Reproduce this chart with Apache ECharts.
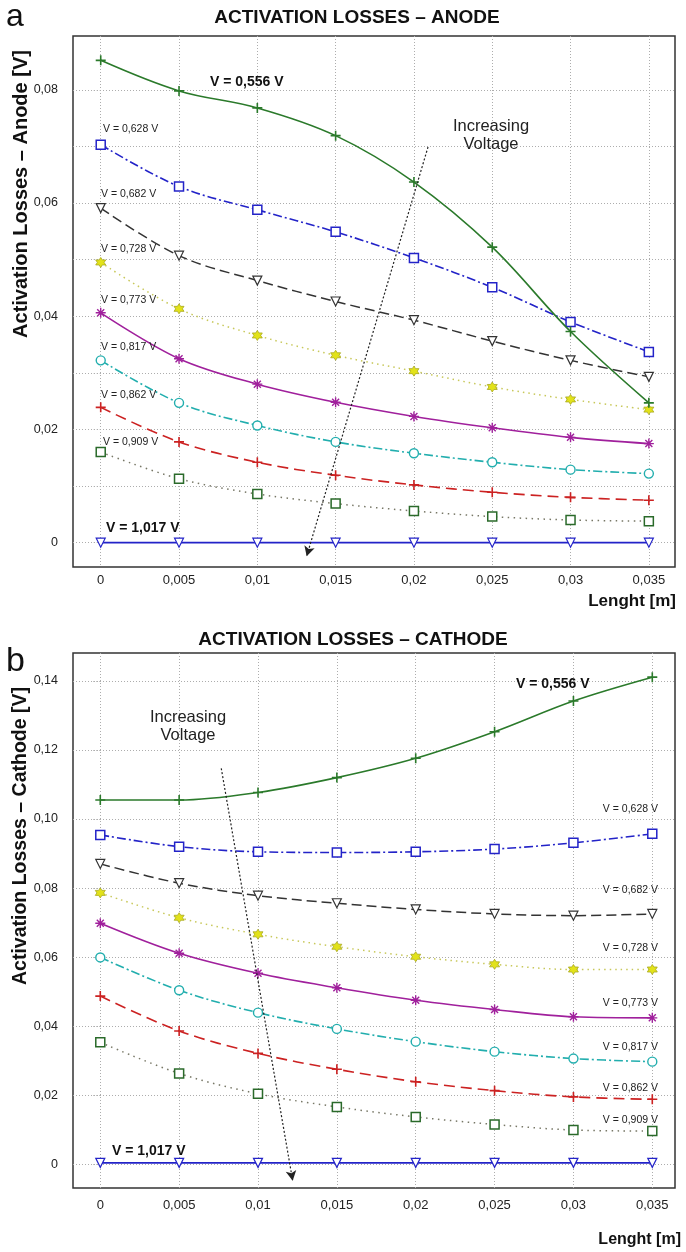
<!DOCTYPE html>
<html>
<head>
<meta charset="utf-8">
<script src="https://cdn.jsdelivr.net/npm/echarts@6/dist/echarts.min.js"></script>
<style>
  html, body { margin: 0; padding: 0; background: #fff; }
  #chart { width: 686px; height: 1252px; }
</style>
</head>
<body>
<div id="chart"></div>
<script>
// Channel length positions [m]
const lengths = [0, 0.005, 0.01, 0.015, 0.02, 0.025, 0.03, 0.035];

// Cell voltages, one curve each
const voltages = ['V = 0,556 V', 'V = 0,628 V', 'V = 0,682 V', 'V = 0,728 V', 'V = 0,773 V',
                  'V = 0,817 V', 'V = 0,862 V', 'V = 0,909 V', 'V = 1,017 V'];

// Anode activation losses [V]
const anode556  = [0.0852, 0.0798, 0.0768, 0.0719, 0.0637, 0.0522, 0.0373, 0.0247];
const anode628  = [0.0703, 0.0629, 0.0588, 0.0549, 0.0503, 0.0451, 0.0390, 0.0337];
const anode682  = [0.0591, 0.0507, 0.0463, 0.0426, 0.0393, 0.0356, 0.0322, 0.0293];
const anode728  = [0.0495, 0.0413, 0.0366, 0.0331, 0.0303, 0.0275, 0.0253, 0.0235];
const anode773  = [0.0406, 0.0325, 0.0280, 0.0248, 0.0223, 0.0203, 0.0186, 0.0175];
const anode817  = [0.0322, 0.0247, 0.0207, 0.0178, 0.0158, 0.0142, 0.0129, 0.0122];
const anode862  = [0.0239, 0.0178, 0.0142, 0.0119, 0.0102, 0.0089, 0.0080, 0.0075];
const anode909  = [0.0160, 0.0113, 0.0086, 0.0069, 0.0056, 0.0046, 0.0040, 0.0038];
const anode1017 = [0.0000, 0.0000, 0.0000, 0.0000, 0.0000, 0.0000, 0.0000, 0.0000];

// Cathode activation losses [V]
const cathode556  = [0.1055, 0.1055, 0.1077, 0.1120, 0.1176, 0.1253, 0.1342, 0.1411];
const cathode628  = [0.0954, 0.0920, 0.0905, 0.0903, 0.0905, 0.0913, 0.0931, 0.0957];
const cathode682  = [0.0870, 0.0814, 0.0778, 0.0756, 0.0738, 0.0725, 0.0720, 0.0725];
const cathode728  = [0.0786, 0.0714, 0.0666, 0.0630, 0.0601, 0.0579, 0.0564, 0.0564];
const cathode773  = [0.0698, 0.0611, 0.0553, 0.0511, 0.0475, 0.0448, 0.0427, 0.0424];
const cathode817  = [0.0599, 0.0504, 0.0439, 0.0392, 0.0355, 0.0326, 0.0306, 0.0297];
const cathode862  = [0.0487, 0.0386, 0.0321, 0.0275, 0.0239, 0.0213, 0.0195, 0.0188];
const cathode909  = [0.0353, 0.0263, 0.0204, 0.0166, 0.0137, 0.0115, 0.0099, 0.0096];
const cathode1017 = [0.0004, 0.0004, 0.0004, 0.0004, 0.0004, 0.0004, 0.0004, 0.0004];

// Axis ticks and labels
const lengthTicks = [0, 0.005, 0.01, 0.015, 0.02, 0.025, 0.03, 0.035];
const anodeGridTicks = [0, 0.01, 0.02, 0.03, 0.04, 0.05, 0.06, 0.07, 0.08];
const anodeLabelTicks = [0, 0.02, 0.04, 0.06, 0.08];
const cathodeTicks = [0, 0.02, 0.04, 0.06, 0.08, 0.10, 0.12, 0.14];

const anodeSeries = [anode556, anode628, anode682, anode728, anode773, anode817, anode862, anode909, anode1017];
const cathodeSeries = [cathode556, cathode628, cathode682, cathode728, cathode773, cathode817, cathode862, cathode909, cathode1017];

// Marker shapes
const PLUS = 'path://M4.2,0H5.8V4.2H10V5.8H5.8V10H4.2V5.8H0V4.2H4.2Z';
const TRI_DOWN = 'path://M0,0L10,0L5,9Z';
const HEXAGRAM = 'path://M5,0L6.4,2.5L9.3,2.5L7.9,5L9.3,7.5L6.4,7.5L5,10L3.6,7.5L0.7,7.5L2.1,5L0.7,2.5L3.6,2.5Z';
const ASTERISK = 'path://M5,0L5,10M0,5L10,5M1.5,1.5L8.5,8.5M8.5,1.5L1.5,8.5';

const FONT = "'Liberation Sans', Arial, sans-serif";

// One visual style per voltage
const styles = [
  { line: '#2b7a2b', type: 'solid',        width: 1.6, symbol: PLUS,     size: 10, fill: '#2b7a2b', stroke: '#2b7a2b', bw: 0 },
  { line: '#2323c8', type: [9, 3, 2, 3],   width: 1.6, symbol: 'rect',   size: 9,  fill: '#fff',    stroke: '#2323c8', bw: 1.5 },
  { line: '#333333', type: [10, 5],        width: 1.5, symbol: TRI_DOWN, size: 9,  fill: '#fff',    stroke: '#333333', bw: 1.2 },
  { line: '#c8c85a', type: [1.5, 4],       width: 1.5, symbol: HEXAGRAM, size: 10, fill: '#e2e21a', stroke: '#a8a820', bw: 0.8 },
  { line: '#a0209c', type: 'solid',        width: 1.6, symbol: ASTERISK, size: 10, fill: 'rgba(0,0,0,0)', stroke: '#a0209c', bw: 1.4 },
  { line: '#22aeae', type: [9, 3, 2, 3],   width: 1.6, symbol: 'circle', size: 9,  fill: '#fff',    stroke: '#22aeae', bw: 1.4 },
  { line: '#cc2222', type: [11, 6],        width: 1.6, symbol: PLUS,     size: 10, fill: '#cc2222', stroke: '#cc2222', bw: 0 },
  { line: '#777766', type: [1.5, 4.5],     width: 1.5, symbol: 'rect',   size: 9,  fill: '#fff',    stroke: '#2a6a2a', bw: 1.5 },
  { line: '#2323c8', type: 'solid',        width: 1.8, symbol: TRI_DOWN, size: 9,  fill: '#fff',    stroke: '#2323c8', bw: 1.2 }
];

const fmtLength = v => v === 0 ? '0' : String(parseFloat(v.toFixed(3))).replace('.', ',');
const fmtLoss = v => v === 0 ? '0' : v.toFixed(2).replace('.', ',');

function makeSeries(values, idx, gridIdx) {
  const s = styles[idx];
  return {
    type: 'line',
    name: voltages[idx],
    xAxisIndex: gridIdx,
    yAxisIndex: gridIdx,
    data: lengths.map((x, i) => [x, values[i]]),
    smooth: 0.35,
    showSymbol: true,
    showAllSymbol: true,
    symbol: s.symbol,
    symbolSize: s.size,
    lineStyle: { color: s.line, type: s.type, width: s.width },
    itemStyle: { color: s.fill, borderColor: s.stroke, borderWidth: s.bw },
    emphasis: { disabled: true },
    silent: true,
    z: 3 + (8 - idx) * 0.01
  };
}

const gridLine = { show: true, lineStyle: { color: '#adadad', type: [1, 2], width: 1 } };

function xAxisFor(gridIndex, min, max, margin) {
  return {
    type: 'value', gridIndex, min, max,
    axisLine: { show: false },
    axisTick: { show: true, customValues: lengthTicks, length: 5, inside: false, lineStyle: { color: '#adadad', type: [1, 2] } },
    axisLabel: { customValues: lengthTicks, formatter: fmtLength, margin, fontSize: 13, color: '#222', fontFamily: FONT },
    splitLine: gridLine
  };
}

function yAxisFor(gridIndex, min, max, ticks, labels) {
  return {
    type: 'value', gridIndex, min, max,
    axisLine: { show: false },
    axisTick: { show: true, customValues: ticks, length: 8, lineStyle: { color: '#adadad', type: [1, 2] } },
    axisLabel: { customValues: labels, formatter: fmtLoss, margin: 15, fontSize: 12.5, color: '#222', fontFamily: FONT },
    splitLine: gridLine
  };
}

const series = [];
anodeSeries.forEach((vals, i) => series.push(makeSeries(vals, i, 0)));
cathodeSeries.forEach((vals, i) => series.push(makeSeries(vals, i, 1)));

// "Increasing Voltage" arrows, in data coordinates of each panel
const arrowStyle = { color: '#222', type: [2, 2], width: 1.2 };
series.push({
  type: 'line', xAxisIndex: 0, yAxisIndex: 0, data: [], silent: true,
  markLine: {
    silent: true, symbol: ['none', 'arrow'], symbolSize: [8, 10], label: { show: false },
    lineStyle: arrowStyle, animation: false,
    data: [[{ coord: [0.0209, 0.0699] }, { coord: [0.01315, -0.0024] }]]
  }
});
series.push({
  type: 'line', xAxisIndex: 1, yAxisIndex: 1, data: [], silent: true,
  markLine: {
    silent: true, symbol: ['none', 'arrow'], symbolSize: [8, 10], label: { show: false },
    lineStyle: arrowStyle, animation: false,
    data: [[{ coord: [0.00767, 0.1147] }, { coord: [0.0122, -0.0048] }]]
  }
});

function txt(x, y, text, opts) {
  return {
    type: 'text', x, y, silent: true, z: 10,
    style: Object.assign({ text, fill: '#222', font: '11px ' + FONT, align: 'left', verticalAlign: 'middle' }, opts || {})
  };
}

const smallFont = '10.5px ' + FONT;
const boldLabel = 'bold 14px ' + FONT;

const graphics = [
  // panel letters
  txt(6, 17, 'a', { font: '32px ' + FONT, fill: '#111' }),
  txt(6, 662, 'b', { font: '34px ' + FONT, fill: '#111' }),
  // titles
  txt(357, 18, 'ACTIVATION LOSSES – ANODE', { font: 'bold 19px ' + FONT, align: 'center', fill: '#111' }),
  txt(353, 640, 'ACTIVATION LOSSES – CATHODE', { font: 'bold 19px ' + FONT, align: 'center', fill: '#111' }),
  // axis names
  Object.assign(txt(21, 194, 'Activation Losses – Anode [V]', { font: 'bold 20px ' + FONT, align: 'center', fill: '#111' }), { rotation: Math.PI / 2 }),
  Object.assign(txt(21, 836, 'Activation Losses – Cathode [V]', { font: 'bold 19.5px ' + FONT, align: 'center', fill: '#111' }), { rotation: Math.PI / 2 }),
  txt(676, 601, 'Lenght [m]', { font: 'bold 17px ' + FONT, align: 'right', fill: '#111' }),
  txt(681, 1240, 'Lenght [m]', { font: 'bold 16px ' + FONT, align: 'right', fill: '#111' }),
  // anode curve labels
  txt(210, 82, voltages[0], { font: boldLabel, fill: '#111' }),
  txt(103, 129, voltages[1], { font: smallFont }),
  txt(101, 194, voltages[2], { font: smallFont }),
  txt(101, 249, voltages[3], { font: smallFont }),
  txt(101, 300, voltages[4], { font: smallFont }),
  txt(101, 347, voltages[5], { font: smallFont }),
  txt(101, 395, voltages[6], { font: smallFont }),
  txt(103, 442, voltages[7], { font: smallFont }),
  txt(106, 528, voltages[8], { font: boldLabel, fill: '#111' }),
  txt(491, 126, 'Increasing', { font: '16.5px ' + FONT, align: 'center' }),
  txt(491, 144, 'Voltage', { font: '16.5px ' + FONT, align: 'center' }),
  // cathode curve labels
  txt(516, 684, voltages[0], { font: boldLabel, fill: '#111' }),
  txt(658, 809, voltages[1], { font: smallFont, align: 'right' }),
  txt(658, 890, voltages[2], { font: smallFont, align: 'right' }),
  txt(658, 948, voltages[3], { font: smallFont, align: 'right' }),
  txt(658, 1003, voltages[4], { font: smallFont, align: 'right' }),
  txt(658, 1047, voltages[5], { font: smallFont, align: 'right' }),
  txt(658, 1088, voltages[6], { font: smallFont, align: 'right' }),
  txt(658, 1120, voltages[7], { font: smallFont, align: 'right' }),
  txt(112, 1151, voltages[8], { font: boldLabel, fill: '#111' }),
  txt(188, 717, 'Increasing', { font: '16.5px ' + FONT, align: 'center' }),
  txt(188, 735, 'Voltage', { font: '16.5px ' + FONT, align: 'center' })
];

const option = {
  animation: false,
  backgroundColor: '#fff',
  grid: [
    { left: 73, top: 36, width: 602, height: 531, show: true, borderColor: '#333', borderWidth: 1.5, backgroundColor: '#fff', containLabel: false },
    { left: 73, top: 653, width: 602, height: 535, show: true, borderColor: '#333', borderWidth: 1.5, backgroundColor: '#fff', containLabel: false }
  ],
  xAxis: [
    xAxisFor(0, -0.00177, 0.03667, 7),
    xAxisFor(1, -0.00173, 0.03644, 11)
  ],
  yAxis: [
    yAxisFor(0, -0.0043, 0.0895, anodeGridTicks, anodeLabelTicks),
    yAxisFor(1, -0.0069, 0.1481, cathodeTicks, cathodeTicks)
  ],
  series,
  graphic: graphics
};

const chart = echarts.init(document.getElementById('chart'), null, { renderer: 'canvas' });
chart.setOption(option);
</script>
</body>
</html>
